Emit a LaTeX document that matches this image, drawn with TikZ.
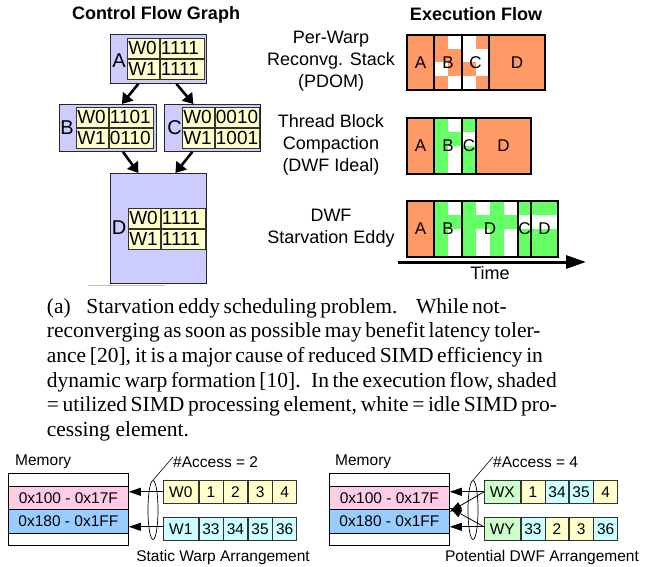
\documentclass[tikz,border=0pt]{standalone}
\usepackage{fontspec}
\setmainfont{Liberation Sans}
\newfontfamily\serifcap{Liberation Serif}
\usetikzlibrary{arrows.meta,shapes.geometric,calc}

\definecolor{lav}{RGB}{204,204,255}
\definecolor{yel}{RGB}{255,255,204}
\definecolor{orng}{RGB}{255,153,102}
\definecolor{grn}{RGB}{102,255,102}
\definecolor{cyn}{RGB}{204,255,255}
\definecolor{lgrn}{RGB}{204,255,204}
\definecolor{pnk}{RGB}{255,204,229}
\definecolor{blu}{RGB}{153,204,255}

\tikzset{
  title/.style={font=\bfseries\fontsize{18}{18}\selectfont, inner sep=0pt},
  cfgbox/.style={draw=black!85, fill=lav, line width=0.8pt, inner sep=0pt, anchor=north west},
  wcell/.style={draw=black!80, fill=yel, line width=0.6pt, inner xsep=1pt, inner ysep=0pt,
    minimum height=20pt, anchor=north west, align=left, font=\fontsize{19}{19}\selectfont},
  blklbl/.style={font=\fontsize{20}{20}\selectfont, inner sep=0pt},
  cfgarrow/.style={line width=2.6pt, -{Triangle[length=10pt,width=13pt]}},
  rowlbl/.style={align=center, font=\fontsize{18}{22}\selectfont, inner sep=0pt},
  barline/.style={draw=black, line width=1.4pt},
  seglbl/.style={font=\fontsize{17}{17}\selectfont, inner sep=0pt},
  timearrow/.style={line width=3pt, -{Triangle[length=20pt,width=13pt]}},
  small/.style={font=\fontsize{15.5}{15.5}\selectfont, inner sep=0pt},
  memrow/.style={draw=black, line width=0.8pt, minimum width=120pt, inner sep=0pt,
    anchor=north west, font=\fontsize{15.5}{15.5}\selectfont},
  acell/.style={draw=black!80, line width=0.6pt, minimum height=23pt, inner sep=0pt,
    anchor=north west, font=\fontsize{15.5}{15.5}\selectfont},
  memarrow/.style={line width=0.8pt, -{Triangle[length=12pt,width=8pt]}},
  groupring/.style={ellipse, draw=black, line width=0.7pt, minimum width=10pt,
    minimum height=59pt, inner sep=0pt},
}

% a two-warp active-mask table: name, left x, top y, mask of W0, mask of W1
\newcommand{\warptable}[5]{%
  \node[wcell,text width=30pt] (#1w0) at (#2,#3) {W0};
  \node[wcell,text width=42pt] (#1m0) at (#1w0.north east) {#4};
  \node[wcell,text width=30pt] (#1w1) at (#1w0.south west) {W1};
  \node[wcell,text width=42pt] (#1m1) at (#1w1.north east) {#5};
}

\begin{document}
\begin{tikzpicture}[x=1pt,y=-1pt]
\useasboundingbox (0,0) rectangle (651,567);

% ---------- titles ----------
\node[title] (cfgtitle) at (156,15) {Control Flow Graph};
\node[title] (extitle) at (476,14) {Execution Flow};

% ---------- control flow graph ----------
\node[cfgbox, minimum width=96pt, minimum height=49pt] (A) at (110,34) {};
\node[cfgbox, minimum width=97pt, minimum height=47pt] (B) at (59,104) {};
\node[cfgbox, minimum width=96pt, minimum height=47pt] (C) at (164,104) {};
\node[cfgbox, minimum width=96pt, minimum height=110pt] (D) at (110,173) {};

\warptable{a}{127}{38}{1111}{1111}
\warptable{b}{76}{107}{1101}{0110}
\warptable{c}{182}{107}{0010}{1001}
\warptable{d}{128}{208}{1111}{1111}

\node[blklbl] (lA) at (119,61) {A};
\node[blklbl] (lB) at (67,128) {B};
\node[blklbl] (lC) at (174.5,128) {C};
\node[blklbl] (lD) at (119,228) {D};

\draw[cfgarrow] ([xshift=-20pt]A.south) -- ([xshift=14pt]B.north);
\draw[cfgarrow] ([xshift=18pt]A.south) -- ([xshift=-19pt]C.north);
\draw[cfgarrow] ([xshift=15pt]B.south) -- ([xshift=-20pt]D.north);
\draw[cfgarrow] ([xshift=-20pt]C.south) -- ([xshift=17pt]D.north);

\draw[black!25, line width=1pt] (88,285) -- (165,285);

% ---------- execution flow ----------
\node[rowlbl] (l1) at (331,61.5) {Per-Warp\\Reconvg. Stack\\(PDOM)};
\node[rowlbl] (l2) at (331,145) {Thread Block\\Compaction\\(DWF Ideal)};
\node[rowlbl] (l3) at (331,228.5) {DWF\\Starvation Eddy};

% per-warp reconvergence stack
\fill[orng] (407,35) rectangle (545,90);
\fill[white] (448,35) rectangle (462,48.75);
\fill[white] (434,62.5) rectangle (448,76.25);
\fill[white] (448,76.25) rectangle (462,90);
\fill[white] (462,35) rectangle (475.5,62.5);
\fill[white] (462,76.25) rectangle (475.5,90);
\fill[white] (475.5,48.75) rectangle (489,76.25);
\draw[barline] (407,35) rectangle (434,90) (434,35) rectangle (462,90)
  (462,35) rectangle (489,90) (489,35) rectangle (545,90);
\node[seglbl] (r1a) at (420.5,62.5) {A};
\node[seglbl] (r1b) at (448,62.5) {B};
\node[seglbl] (r1c) at (475.5,62.5) {C};
\node[seglbl] (r1d) at (517,62.5) {D};

% thread block compaction
\fill[orng] (407,118) rectangle (434,174);
\fill[grn] (434,118) rectangle (476,174);
\fill[orng] (476,118) rectangle (531,174);
\fill[white] (448,118) rectangle (462,132);
\fill[white] (448,146) rectangle (462,174);
\fill[white] (462,132) rectangle (476,146);
\draw[barline] (407,118) rectangle (434,174) (434,118) rectangle (462,174)
  (462,118) rectangle (476,174) (476,118) rectangle (531,174);
\node[seglbl] (r2a) at (420.5,146) {A};
\node[seglbl] (r2b) at (448,146) {B};
\node[seglbl] (r2c) at (469,146) {C};
\node[seglbl] (r2d) at (503.5,146) {D};

% starvation eddy
\fill[orng] (407,201) rectangle (434,257);
\fill[grn] (434,201) rectangle (558,257);
\fill[white] (448,201) rectangle (462,215);
\fill[white] (448,229) rectangle (462,257);
\fill[white] (476,201) rectangle (490,215);
\fill[white] (476,229) rectangle (490,257);
\fill[white] (504,201) rectangle (518,215);
\fill[white] (504,229) rectangle (518,257);
\fill[white] (518,215) rectangle (558,229);
\draw[barline] (407,201) rectangle (434,257) (434,201) rectangle (462,257)
  (462,201) rectangle (518,257) (518,201) rectangle (531,257) (531,201) rectangle (558,257);
\node[seglbl] (r3a) at (420.5,229) {A};
\node[seglbl] (r3b) at (448,229) {B};
\node[seglbl] (r3d) at (490,229) {D};
\node[seglbl] (r3c) at (524.5,229) {C};
\node[seglbl] (r3e) at (544.5,229) {D};

\coordinate (tstart) at (398,262);
\coordinate (tend) at (586,262);
\draw[timearrow] (tstart) -- (tend);
\node[font=\fontsize{18}{18}\selectfont, inner sep=0pt] (timelbl) at (490,273) {Time};

% ---------- caption ----------
\node[anchor=north west, inner sep=0pt, align=left, font=\serifcap\fontsize{21.5}{24.7}\selectfont] (cap) at (46.7,298) {%
\makebox[424pt][s]{(a)\hspace{12pt} Starvation eddy scheduling problem.\hspace{12pt} While not-}\\
\makebox[424pt][s]{reconverging as soon as possible may benefit latency toler-}\\
\makebox[424pt][s]{ance [20], it is a major cause of reduced SIMD efficiency in}\\
\makebox[424pt][s]{dynamic warp formation [10].\hspace{4pt} In the execution flow, shaded}\\
\makebox[424pt][s]{= utilized SIMD processing element, white = idle SIMD pro-}\\
cessing element.};

% ---------- static warp arrangement ----------
\node[small, anchor=west] (memL) at (15,462) {Memory};
\node[memrow, minimum height=13pt, fill=white] (mtL) at (8,473) {};
\node[memrow, minimum height=23pt, fill=pnk] (mpL) at (8,486) {0x100 - 0x17F};
\node[memrow, minimum height=24pt, fill=blu] (mbL) at (8,509) {0x180 - 0x1FF};
\node[memrow, minimum height=12pt, fill=white] (mzL) at (8,533) {};

\node[acell, fill=yel, minimum width=35pt] (w0) at (163,480) {W0};
\node[acell, fill=yel, minimum width=24pt] (w0a) at (w0.north east) {1};
\node[acell, fill=yel, minimum width=24pt] (w0b) at (w0a.north east) {2};
\node[acell, fill=yel, minimum width=24pt] (w0c) at (w0b.north east) {3};
\node[acell, fill=yel, minimum width=24pt] (w0d) at (w0c.north east) {4};
\node[acell, fill=cyn, minimum width=35pt] (w1) at (163,517) {W1};
\node[acell, fill=cyn, minimum width=24pt] (w1a) at (w1.north east) {33};
\node[acell, fill=cyn, minimum width=24pt] (w1b) at (w1a.north east) {34};
\node[acell, fill=cyn, minimum width=24pt] (w1c) at (w1b.north east) {35};
\node[acell, fill=cyn, minimum width=24pt] (w1d) at (w1c.north east) {36};

\draw[memarrow] (w0.west) -- (w0.west -| mpL.east);
\draw[memarrow] ([yshift=2pt]w1.west) -- ([yshift=2pt]w1.west -| mbL.east);
\node[groupring] (ringL) at (153,510) {};
\node[small, anchor=west] (accL) at (173,462) {\#Access = 2};
\draw[line width=0.6pt] (ringL.north) -- ([yshift=5pt]accL.west);
\node[small] (capL) at (223,557) {Static Warp Arrangement};

% ---------- potential DWF arrangement ----------
\node[small, anchor=west] (memR) at (335,462) {Memory};
\node[memrow, minimum height=13pt, fill=white] (mtR) at (329,473) {};
\node[memrow, minimum height=23pt, fill=pnk] (mpR) at (329,486) {0x100 - 0x17F};
\node[memrow, minimum height=24pt, fill=blu] (mbR) at (329,509) {0x180 - 0x1FF};
\node[memrow, minimum height=12pt, fill=white] (mzR) at (329,533) {};

\node[acell, fill=lgrn, minimum width=36pt] (wx) at (484,480) {WX};
\node[acell, fill=yel, minimum width=24pt] (wxa) at (wx.north east) {1};
\node[acell, fill=cyn, minimum width=23pt] (wxb) at (wxa.north east) {34};
\node[acell, fill=cyn, minimum width=24pt] (wxc) at (wxb.north east) {35};
\node[acell, fill=yel, minimum width=24pt] (wxd) at (wxc.north east) {4};
\node[acell, fill=lgrn, minimum width=36pt] (wy) at (484,517) {WY};
\node[acell, fill=cyn, minimum width=24pt] (wya) at (wy.north east) {33};
\node[acell, fill=yel, minimum width=23pt] (wyb) at (wya.north east) {2};
\node[acell, fill=yel, minimum width=24pt] (wyc) at (wyb.north east) {3};
\node[acell, fill=cyn, minimum width=24pt] (wyd) at (wyc.north east) {36};

\draw[memarrow] (wx.west) -- (wx.west -| mpR.east);
\draw[memarrow] ([yshift=2pt]wy.west) -- ([yshift=2pt]wy.west -| mbR.east);
\draw[memarrow] (wx.west) -- ([yshift=-2pt]mpR.south east);
\draw[memarrow] ([yshift=2pt]wy.west) -- ([yshift=2pt]mpR.south east);
\node[groupring] (ringR) at (473,510) {};
\node[small, anchor=west] (accR) at (493,462) {\#Access = 4};
\draw[line width=0.6pt] (ringR.north) -- ([yshift=5pt]accR.west);
\node[small] (capR) at (542,557) {Potential DWF Arrangement};

\end{tikzpicture}
\end{document}
